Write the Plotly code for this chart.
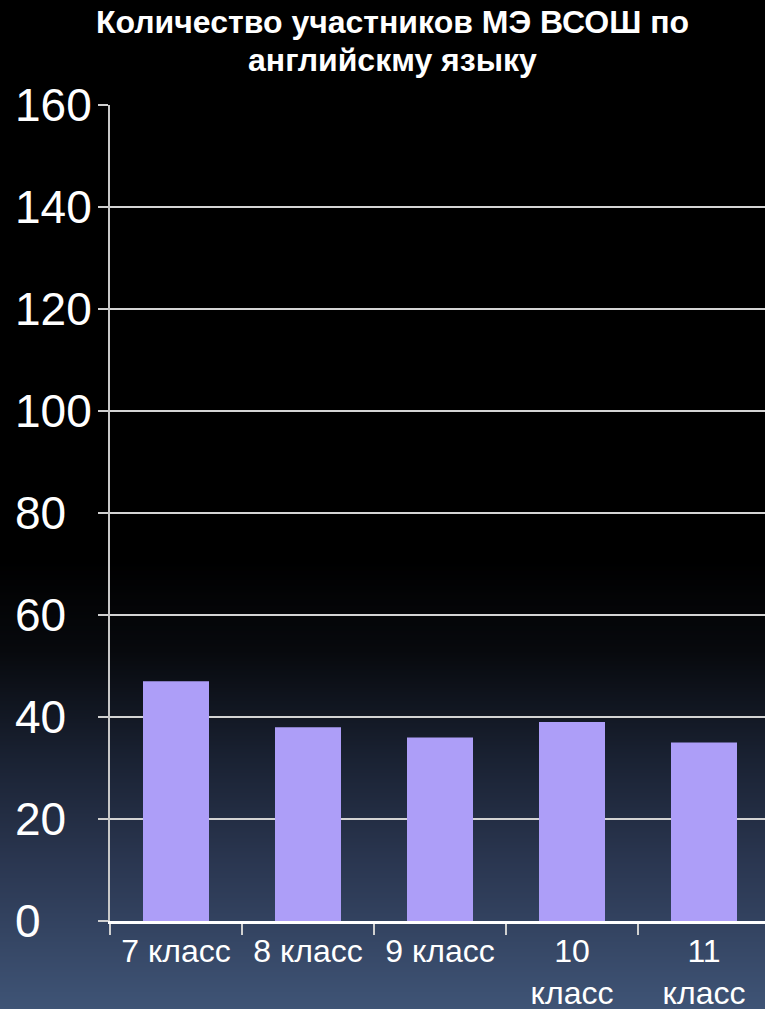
import base64
import struct
import zlib

import plotly.graph_objects as go

# ---- data ----
categories = ["7 класс", "8 класс", "9 класс", "10<br>класс", "11<br>класс"]
values = [47, 38, 36, 39, 35]
y_tick_values = [0, 20, 40, 60, 80, 100, 120, 140, 160]
y_tick_labels = ["0", "20", "40", "60", "80", "100", "120", "140", "160"]
title_lines = ["Количество участников МЭ ВСОШ по", "английскму языку"]

# ---- layout geometry ----
W, H = 765, 1009
M_L, M_R, M_T, M_B = 110, 0, 105, 88
plot_w = W - M_L - M_R
plot_h = H - M_T - M_B

# ---- background gradient (style only) ----
stops = [(0, (0, 0, 0)), (560, (0, 0, 0)), (650, (7, 9, 13)), (760, (26, 34, 51)),
         (860, (42, 54, 80)), (H, (63, 84, 118))]


def grad_color(y):
    for (y0, c0), (y1, c1) in zip(stops[:-1], stops[1:]):
        if y0 <= y <= y1:
            t = 0 if y1 == y0 else (y - y0) / (y1 - y0)
            return tuple(int(round(a + (b - a) * t)) for a, b in zip(c0, c1))
    return stops[-1][1]


def make_png(height):
    raw = b"".join(b"\x00" + bytes(grad_color(y)) * 2 for y in range(height))

    def chunk(tag, data):
        return struct.pack(">I", len(data)) + tag + data + struct.pack(">I", zlib.crc32(tag + data) & 0xffffffff)

    png = b"\x89PNG\r\n\x1a\n"
    png += chunk(b"IHDR", struct.pack(">IIBBBBB", 2, height, 8, 2, 0, 0, 0))
    png += chunk(b"IDAT", zlib.compress(raw, 9))
    png += chunk(b"IEND", b"")
    return "data:image/png;base64," + base64.b64encode(png).decode()


bg_src = make_png(H)

FONT = "Liberation Sans, Arial, sans-serif"

fig = go.Figure()
fig.add_trace(go.Bar(
    x=categories,
    y=values,
    width=0.5,
    marker=dict(color="#ad9ef8", line=dict(width=0)),
    hoverinfo="skip",
))

annotations = []
for v, lab in zip(y_tick_values, y_tick_labels):
    annotations.append(dict(
        xref="paper", yref="y", x=0, y=v, xshift=-97, xanchor="left", yanchor="middle",
        text=lab, showarrow=False, font=dict(family=FONT, size=46, color="#ffffff"),
    ))

# title lines as annotations for exact placement
for i, (line, top_px) in enumerate(zip(title_lines, [2, 40])):
    annotations.append(dict(
        xref="paper", yref="paper",
        x=(392 - M_L) / plot_w, y=1 + (M_T - top_px) / plot_h,
        xanchor="center", yanchor="top",
        text="<b>" + line + "</b>", showarrow=False, align="center",
        font=dict(family=FONT, size=32, color="#ffffff"),
    ))

fig.update_layout(
    width=W, height=H,
    margin=dict(l=M_L, r=M_R, t=M_T, b=M_B, pad=0, autoexpand=False),
    paper_bgcolor="#000000",
    plot_bgcolor="rgba(0,0,0,0)",
    showlegend=False,
    images=[dict(
        source=bg_src, xref="paper", yref="paper",
        x=-M_L / plot_w, y=1 + M_T / plot_h,
        sizex=W / plot_w, sizey=H / plot_h,
        sizing="stretch", layer="below", xanchor="left", yanchor="top",
    )],
    xaxis=dict(
        type="category",
        range=[-0.5, 4.5 - (M_L + 5 * 132 - W) / 132],
        tickson="boundaries",
        ticks="outside", ticklen=11, tickwidth=1.5, tickcolor="#d0d0d0",
        showline=True, linecolor="#ffffff", linewidth=2.5,
        showgrid=False,
        tickfont=dict(family=FONT, size=32, color="#ffffff"),
        automargin=False,
        fixedrange=True,
    ),
    yaxis=dict(
        range=[0, 160],
        tickvals=y_tick_values,
        showticklabels=False,
        ticks="outside", ticklen=10, tickwidth=1.5, tickcolor="#d0d0d0",
        showline=True, linecolor="#c8c8c8", linewidth=1.5,
        showgrid=True, gridcolor="#d4d4d4", gridwidth=1.5,
        zeroline=False,
        automargin=False,
        fixedrange=True,
    ),
    annotations=annotations,
    bargap=0.5,
)

fig.write_html(
    "out.html",
    config={"displayModeBar": False},
    post_script="document.body.style.margin='0';document.body.style.overflow='hidden';",
)
